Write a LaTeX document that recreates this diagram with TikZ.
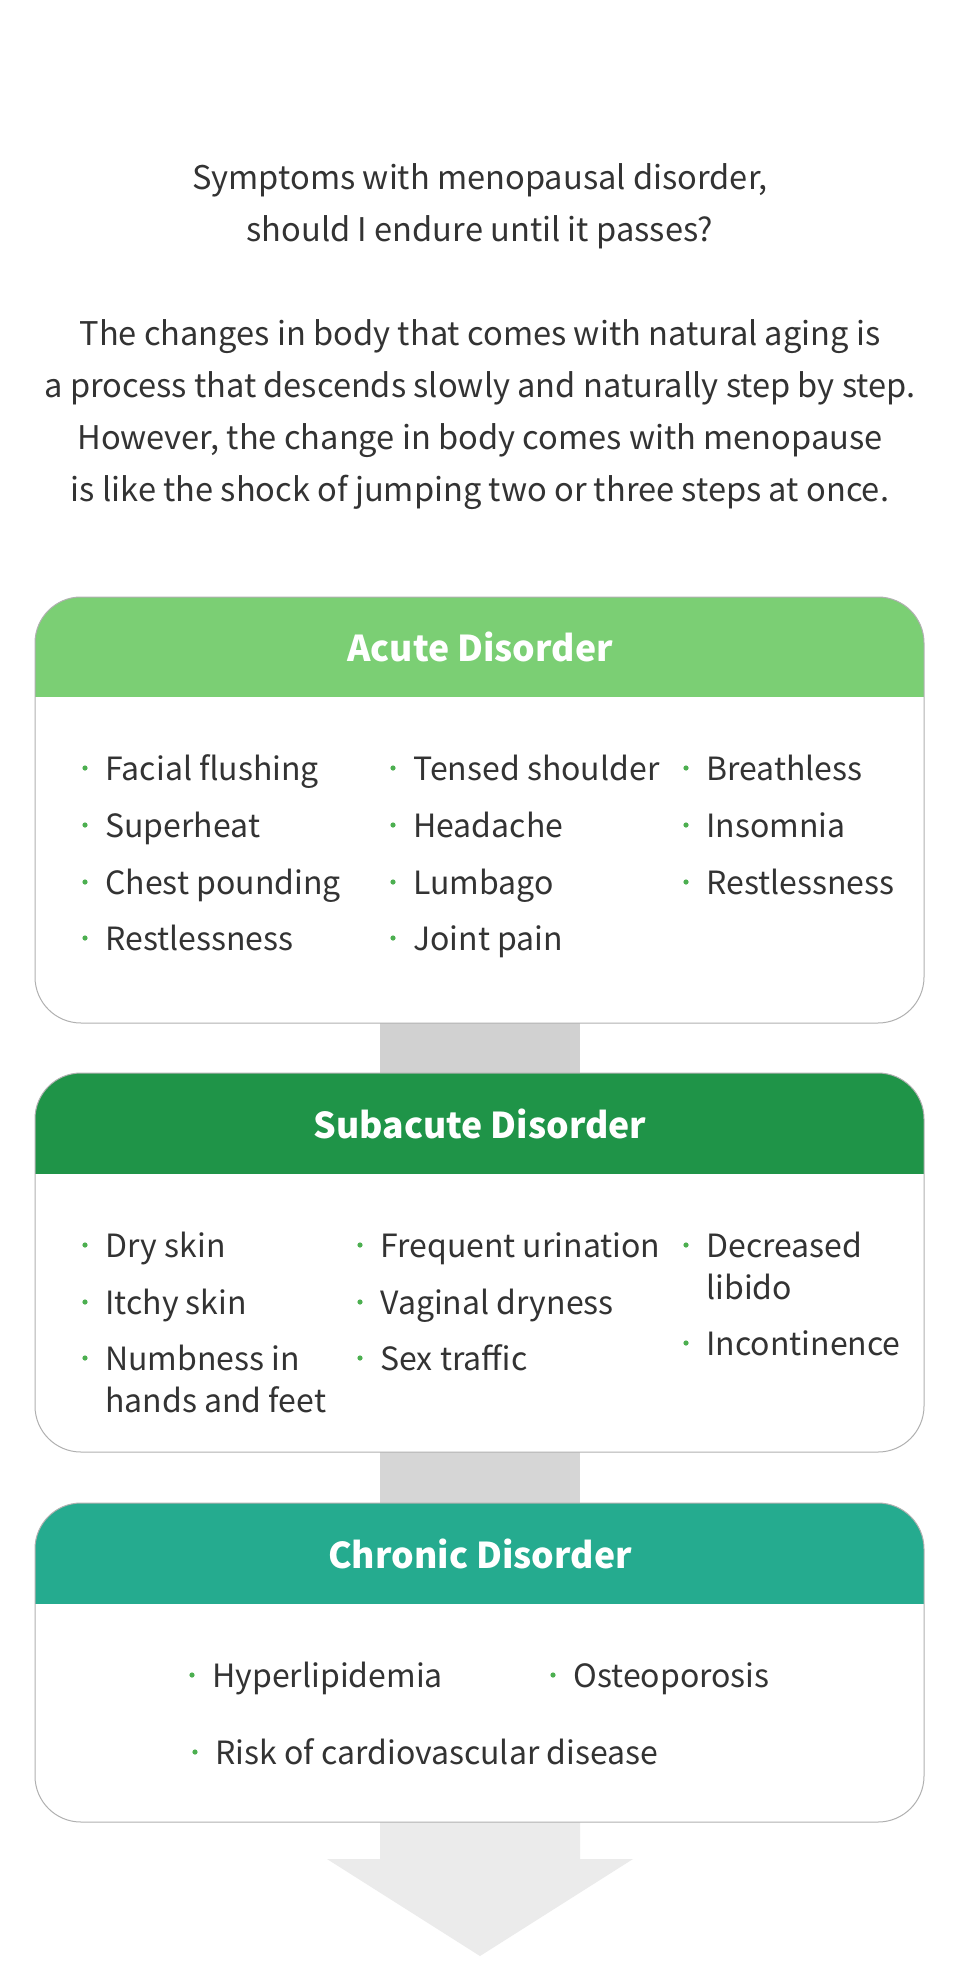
\documentclass[tikz,border=0pt]{standalone}
\usepackage{fontspec}
\setmainfont{Noto Sans CJK KR}
\definecolor{acutegreen}{HTML}{7BCF74}
\definecolor{subgreen}{HTML}{1F9448}
\definecolor{chronicteal}{HTML}{25AB8F}
\definecolor{dotgreen}{HTML}{4CAF50}
\definecolor{bodytext}{HTML}{333333}
\definecolor{boxline}{HTML}{B0B0B0}
\tikzset{
  introtext/.style={inner sep=0,align=center,text=bodytext,font=\fontsize{16.3}{26}\selectfont},
  headtext/.style={inner sep=0,text=white,font=\fontsize{17.8}{22}\selectfont\bfseries},
  symtext/.style={anchor=base west,inner sep=0,align=left,text=bodytext,font=\fontsize{16}{21}\selectfont}
}
\newcommand{\diseasebox}[6]{%
  \fill[white,rounded corners=23pt] (35,#2) rectangle (924,#4);
  \begin{scope}
    \clip[rounded corners=23pt] (35,#2) rectangle (924,#4);
    \fill[#5] (35,#2) rectangle (924,#3);
  \end{scope}
  \draw[boxline,line width=0.5pt,rounded corners=23pt] (35,#2) rectangle (924,#4);
  \node[headtext] (#1) at (480,{(#2+#3)/2}) {#6};}
\newcommand{\symp}[5][0]{%
  \fill[dotgreen] (#3-20,#4) circle (1.3pt);
  \node[symtext] (#2) at (#3,#4+12+#1) {#5};}
\begin{document}
\begin{tikzpicture}[x=0.5pt,y=-0.5pt]
  \useasboundingbox[fill=white] (0,0) rectangle (960,1985);
  \node[introtext,anchor=base] (question) at (480,242) {Symptoms with menopausal disorder,\\should I endure until it passes?};
  \node[introtext,anchor=base] (intro) at (480,501) {The changes in body that comes with natural aging is\\a process that descends slowly and naturally step by step.\\However, the change in body comes with menopause\\is like the shock of jumping two or three steps at once.};
  \fill[black!18] (380,1010) rectangle (580,1080);
  \fill[black!16] (380,1440) rectangle (580,1510);
  \fill[black!8] (380,1810) -- (580,1810) -- (580,1859) -- (633,1859) -- (480,1956) -- (327,1859) -- (380,1859) -- cycle;
  \diseasebox{acute}{597}{697}{1023}{acutegreen}{Acute Disorder}
  \symp{flush}{105}{768}{Facial flushing}
  \symp{heat}{105}{825}{Superheat}
  \symp{chest}{105}{882}{Chest pounding}
  \symp{rest}{105}{938}{Restlessness}
  \symp{shoulder}{413}{768}{Tensed shoulder}
  \symp{head}{413}{825}{Headache}
  \symp{lumbago}{413}{882}{Lumbago}
  \symp{joint}{413}{938}{Joint pain}
  \symp{breath}{706}{768}{Breathless}
  \symp{insomnia}{706}{825}{Insomnia}
  \symp{restb}{706}{882}{Restlessness}
  \diseasebox{subacute}{1073}{1174}{1452}{subgreen}{Subacute Disorder}
  \symp{dry}{105}{1245}{Dry skin}
  \symp{itchy}{105}{1302}{Itchy skin}
  \symp[42]{numb}{105}{1358}{Numbness in\\hands and feet}
  \symp{urine}{380}{1245}{Frequent urination}
  \symp{vaginal}{380}{1302}{Vaginal dryness}
  \symp{sex}{380}{1358}{Sex traffic}
  \symp[42]{libido}{706}{1245}{Decreased\\libido}
  \symp{incont}{706}{1343}{Incontinence}
  \diseasebox{chronic}{1503}{1604}{1822}{chronicteal}{Chronic Disorder}
  \symp{lipid}{212}{1675}{Hyperlipidemia}
  \symp{osteo}{573}{1675}{Osteoporosis}
  \symp{cardio}{215}{1752}{Risk of cardiovascular disease}
\end{tikzpicture}
\end{document}
